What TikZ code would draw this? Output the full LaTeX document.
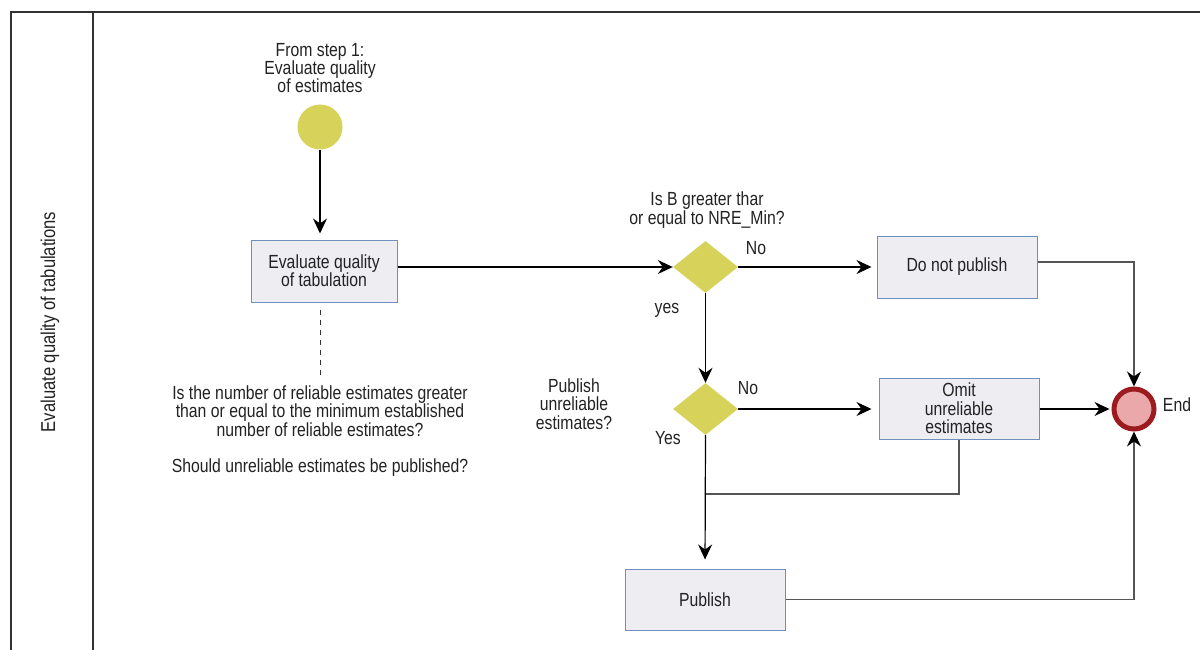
\documentclass[tikz,border=0pt]{standalone}
\usepackage{fontspec}
\setmainfont{Liberation Sans}[FakeStretch=0.83]
\usetikzlibrary{shapes.geometric,arrows.meta}
\definecolor{yel}{HTML}{D6D25A}
\definecolor{boxfill}{HTML}{EEEDF2}
\definecolor{boxline}{HTML}{6F8FC0}
\definecolor{endfill}{HTML}{EBA8AA}
\definecolor{endline}{HTML}{9B1B1F}
\definecolor{txt}{HTML}{222222}
\definecolor{frame}{HTML}{333333}
\definecolor{conn}{HTML}{555555}
\begin{document}
\begin{tikzpicture}[x=1pt,y=-1pt,
  font=\fontsize{19}{18.4}\selectfont, text=txt,
  every node/.style={inner sep=0pt},
  txtnode/.style={align=center},
  taskbox/.style={draw=boxline, fill=boxfill, line width=1pt, minimum width=160pt, minimum height=61pt, align=center},
  gate/.style={diamond, fill=yel, minimum width=65pt, minimum height=52pt},
  tip/.style={-{Stealth[length=15pt,width=14pt,inset=5pt,color=black]}},
  arr/.style={draw=black, line width=1.2pt, tip},
  lnk/.style={draw=conn, line width=1.3pt},
  lnkarr/.style={draw=conn, line width=1.3pt, tip},
  framelane/.style={draw=frame, line width=1.6pt}
]
\useasboundingbox (0,0) rectangle (1200,650);

% pool / lane frame
\draw[framelane] (11,650) -- (11,12) -- (1200,12);
\draw[framelane] (93,12) -- (93,650);
\node[rotate=90, font=\fontsize{20}{20}\selectfont] (lane) at (50,322) {Evaluate quality of tabulations};

% start
\node[txtnode] (starttxt) at (320,68) {From step 1:\\Evaluate quality\\of estimates};
\node[circle, fill=yel, minimum size=45pt] (start) at (320,127) {};

% tasks
\node[taskbox, minimum width=146pt, minimum height=62pt] (eval) at (324,271) {Evaluate quality\\of tabulation};
\node[taskbox, minimum height=62pt] (dnp) at (957,267) {Do not publish};
\node[taskbox] (omit) at (959,408.5) {Omit\\unreliable\\estimates};
\node[taskbox] (pub) at (705,599.5) {Publish};

% gateways
\node[gate] (d1) at (705.5,267) {};
\node[gate] (d2) at (705.5,409) {};

% end
\node[circle, draw=endline, fill=endfill, line width=5pt, minimum size=40pt, outer sep=2.5pt] (end) at (1134,409) {};
\node (endtxt) at (1177,405) {End};

% annotations
\node[txtnode] (q) at (320,431) {Is the number of reliable estimates greater\\than or equal to the minimum established\\number of reliable estimates?\\[18pt]Should unreliable estimates be published?};
\node[txtnode] (q1) at (707,210) {Is B greater thar\\or equal to NRE\_Min?};
\node (no1) at (756,248) {No};
\node (yes1) at (667,310) {yes};
\node[txtnode] (q2) at (574,404) {Publish\\unreliable\\estimates?};
\node (no2) at (748,388) {No};
\node (yes2) at (668,438) {Yes};
\coordinate (join) at (705.5,494);

% connectors
\draw[arr, shorten >=6pt] (start) -- (start |- eval.north);
\draw[draw=frame, line width=1pt, dash pattern=on 5pt off 5pt] ([yshift=-7pt]start |- eval.south) -- ([yshift=8pt]start |- q.north);
\draw[arr] (eval.east |- d1) -- (d1.west);
\draw[arr, shorten >=5pt] (d1.east) -- (dnp.west |- d1);
\draw[lnkarr] ([yshift=5pt]dnp.east) -| (end.north);
\draw[arr] (d1.south) -- (d2.north);
\draw[arr, shorten >=7pt] (d2.east) -- (omit.west |- d2);
\draw[arr, shorten >=2pt] (omit.east |- end) -- (end.west);
\draw[lnk] (omit.south) |- (join);
\draw[arr, shorten >=9pt] (d2.south) -- (pub.north);
\draw[lnkarr] (pub.east) -| (end.south);
\end{tikzpicture}
\end{document}
